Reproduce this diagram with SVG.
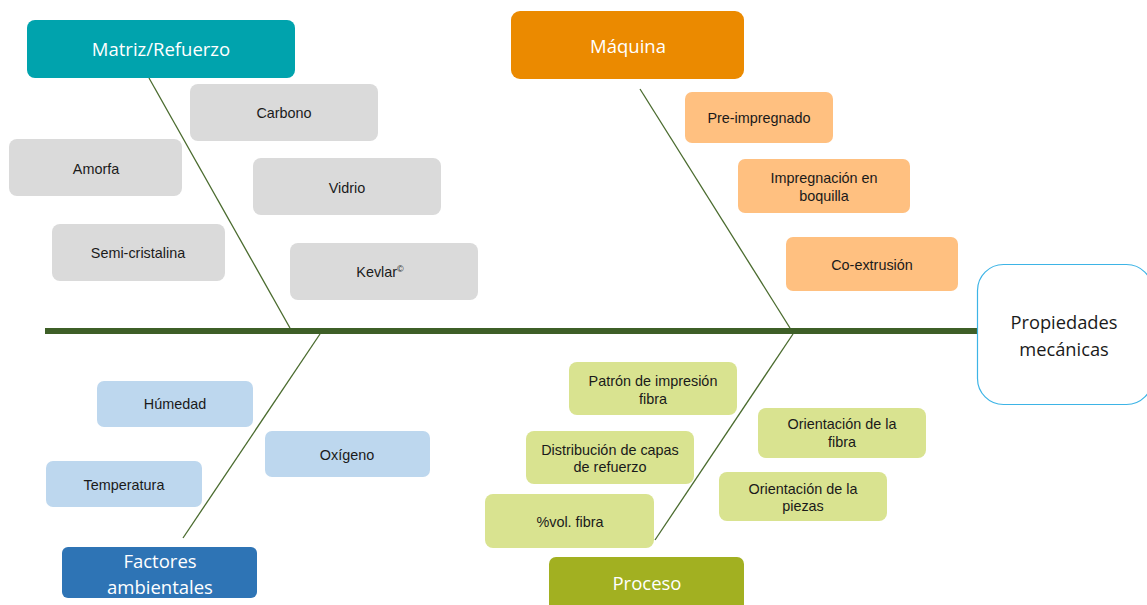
<svg xmlns="http://www.w3.org/2000/svg" width="1147" height="605" viewBox="0 0 1147 605">
  <style>
    .head { font-family: "Open Sans", "Noto Sans", sans-serif; font-size: 18.5px; fill: #ffffff; text-anchor: middle; }
    .lbl { font-family: "Liberation Sans", Arial, sans-serif; font-size: 14.4px; fill: #1a1a1a; text-anchor: middle; }
    .eff { font-family: "Open Sans", "Noto Sans", sans-serif; font-size: 18.3px; fill: #1a1a1a; text-anchor: middle; }
    .gray { fill: #dadada; }
    .peach { fill: #ffc080; }
    .sky { fill: #bdd7ee; }
    .lime { fill: #d9e390; }
    .bone { stroke: #4a6b2e; stroke-width: 1.3; fill: none; }
  </style>

  <!-- connectors: spine and ribs -->
  <g id="connectors">
    <line x1="45" y1="331" x2="978" y2="331" stroke="#3e5f27" stroke-width="6"/>
    <line class="bone" x1="149" y1="78" x2="290" y2="328"/>
    <line class="bone" x1="640" y1="89" x2="790" y2="328"/>
    <line class="bone" x1="320" y1="334" x2="183" y2="538"/>
    <line class="bone" x1="793" y1="334" x2="655" y2="540"/>
  </g>

  <!-- effect -->
  <g id="propiedades">
    <rect x="977.5" y="264.5" width="175" height="140" rx="26" fill="#ffffff" stroke="#3db4e6" stroke-width="1.2"/>
    <text class="eff" x="1064" y="329">Propiedades</text>
    <text class="eff" x="1064" y="356">mecánicas</text>
  </g>

  <!-- category heads -->
  <g id="matriz">
    <rect x="27" y="20" width="268" height="58" rx="8" fill="#00a3ad"/>
    <text class="head" x="161" y="56">Matriz/Refuerzo</text>
  </g>
  <g id="maquina">
    <rect x="511" y="11" width="233" height="68" rx="9" fill="#eb8a00"/>
    <text class="head" x="628" y="53">Máquina</text>
  </g>
  <g id="factores">
    <rect x="62" y="547" width="195" height="51" rx="6" fill="#2e74b5"/>
    <text class="head" x="160" y="568">Factores</text>
    <text class="head" x="160" y="594">ambientales</text>
  </g>
  <g id="proceso">
    <rect x="549" y="557" width="195" height="55" rx="7" fill="#a2b021"/>
    <text class="head" x="647" y="590">Proceso</text>
  </g>

  <!-- Matriz/Refuerzo causes -->
  <g id="carbono"><rect class="gray" x="190" y="84" width="188" height="57" rx="8"/><text class="lbl" x="284" y="118">Carbono</text></g>
  <g id="amorfa"><rect class="gray" x="9" y="139" width="173" height="57" rx="8"/><text class="lbl" x="96" y="174">Amorfa</text></g>
  <g id="vidrio"><rect class="gray" x="253" y="158" width="188" height="57" rx="8"/><text class="lbl" x="347" y="193">Vidrio</text></g>
  <g id="semicristalina"><rect class="gray" x="52" y="224" width="173" height="57" rx="8"/><text class="lbl" x="138" y="258">Semi-cristalina</text></g>
  <g id="kevlar"><rect class="gray" x="290" y="243" width="188" height="57" rx="8"/><text class="lbl" x="380" y="277">Kevlar<tspan font-size="9" dy="-5">©</tspan></text></g>

  <!-- Máquina causes -->
  <g id="preimpregnado"><rect class="peach" x="685" y="92" width="148" height="51" rx="7"/><text class="lbl" x="759" y="123">Pre-impregnado</text></g>
  <g id="impregnacion"><rect class="peach" x="738" y="159" width="172" height="54" rx="7"/><text class="lbl" x="824" y="183">Impregnación en</text><text class="lbl" x="824" y="201">boquilla</text></g>
  <g id="coextrusion"><rect class="peach" x="786" y="237" width="172" height="54" rx="7"/><text class="lbl" x="872" y="270">Co-extrusión</text></g>

  <!-- Factores ambientales causes -->
  <g id="humedad"><rect class="sky" x="97" y="381" width="156" height="46" rx="7"/><text class="lbl" x="175" y="409">Húmedad</text></g>
  <g id="oxigeno"><rect class="sky" x="265" y="431" width="165" height="46" rx="7"/><text class="lbl" x="347" y="460">Oxígeno</text></g>
  <g id="temperatura"><rect class="sky" x="46" y="461" width="156" height="46" rx="7"/><text class="lbl" x="124" y="490">Temperatura</text></g>

  <!-- Proceso causes -->
  <g id="patron"><rect class="lime" x="569" y="362" width="168" height="53" rx="8"/><text class="lbl" x="653" y="386">Patrón de impresión</text><text class="lbl" x="653" y="404">fibra</text></g>
  <g id="distribucion"><rect class="lime" x="526" y="431" width="168" height="53" rx="8"/><text class="lbl" x="610" y="455">Distribución de capas</text><text class="lbl" x="610" y="472">de refuerzo</text></g>
  <g id="volfibra"><rect class="lime" x="485" y="494" width="169" height="54" rx="8"/><text class="lbl" x="570" y="527">%vol. fibra</text></g>
  <g id="orientfibra"><rect class="lime" x="758" y="408" width="168" height="50" rx="8"/><text class="lbl" x="842" y="429">Orientación de la</text><text class="lbl" x="842" y="447">fibra</text></g>
  <g id="orientpiezas"><rect class="lime" x="719" y="472" width="168" height="49" rx="8"/><text class="lbl" x="803" y="494">Orientación de la</text><text class="lbl" x="803" y="511">piezas</text></g>
</svg>
